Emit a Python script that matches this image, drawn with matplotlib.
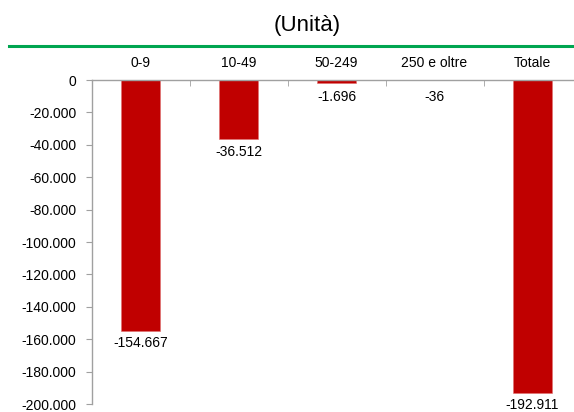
import matplotlib
matplotlib.use("Agg")
import matplotlib.pyplot as plt
from matplotlib.ticker import FuncFormatter, FixedLocator

categories = ["0-9", "10-49", "50-249", "250 e oltre", "Totale"]
values = [-154667, -36512, -1696, -36, -192911]
yticks = list(range(0, -200001, -20000))

plt.rcParams['font.family'] = ['Liberation Sans Narrow', 'Liberation Sans', 'DejaVu Sans']


def it_fmt(v, pos=None):
    s = "{:,.0f}".format(v).replace(",", ".")
    return s


fig = plt.figure(figsize=(5.74, 4.12), dpi=100)
ax = fig.add_axes([91.5 / 574, 1 - 404 / 412, 490 / 574, 324 / 412])

x = list(range(len(categories)))
ax.bar(x, values, width=0.39, color="#C00000", edgecolor="#e07070", linewidth=0.4, zorder=2)

ax.set_xlim(-0.5, len(categories) - 0.5)
ax.set_ylim(-200000, 0)

# data labels below each bar
for xi, v in zip(x, values):
    y = min(v, -2800)
    ax.annotate(it_fmt(v), (xi, y), xytext=(0, -4), textcoords="offset points",
                ha="center", va="top", fontsize=10, color="black", annotation_clip=False)

ax.set_yticks(yticks)
ax.yaxis.set_major_formatter(FuncFormatter(it_fmt))
ax.tick_params(axis="y", length=4, color="#a0a0a0", labelsize=10, pad=7)

ax.xaxis.tick_top()
ax.set_xticks(x)
ax.set_xticklabels(categories, fontsize=10)
ax.tick_params(axis="x", length=0, pad=7)
ax.xaxis.set_minor_locator(FixedLocator([i + 0.5 for i in x[:-1]]))
ax.tick_params(axis="x", which="minor", direction="in", length=4, color="#a0a0a0", top=True)

for side in ["right", "bottom"]:
    ax.spines[side].set_visible(False)
for side in ["left", "top"]:
    ax.spines[side].set_color("#a0a0a0")
    ax.spines[side].set_linewidth(1.0)

fig.text(307 / 574, 1 - 25 / 412, "(Unità)", ha="center", va="center", fontsize=16)
fig.add_artist(plt.Line2D([9 / 574, 1.0], [1 - 46 / 412, 1 - 46 / 412],
                          color="#00A550", linewidth=2.2, transform=fig.transFigure))

fig.savefig("out.png", dpi=100)
